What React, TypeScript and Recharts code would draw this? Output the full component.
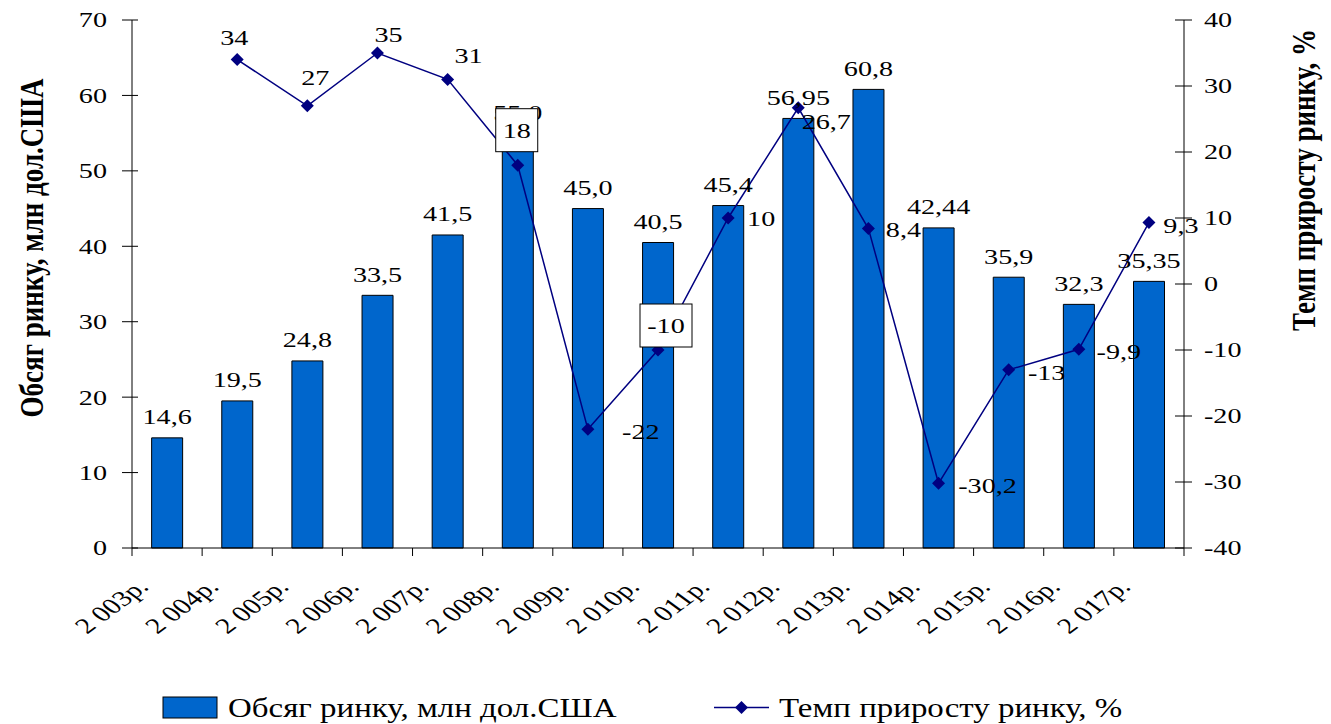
import React from 'react';
import { ComposedChart, Bar, Line, XAxis, YAxis, Legend, LabelList } from 'recharts';

const years = ['2 003р.', '2 004р.', '2 005р.', '2 006р.', '2 007р.', '2 008р.', '2 009р.', '2 010р.', '2 011р.', '2 012р.', '2 013р.', '2 014р.', '2 015р.', '2 016р.', '2 017р.'];
const marketVolume = [14.6, 19.5, 24.8, 33.5, 41.5, 55.0, 45.0, 40.5, 45.4, 56.95, 60.8, 42.44, 35.9, 32.3, 35.35];
const growthRate: (number | null)[] = [null, 34, 27, 35, 31, 18, -22, -10, 10, 26.7, 8.4, -30.2, -13, -9.9, 9.3];
const leftTicks = [0, 10, 20, 30, 40, 50, 60, 70];
const rightTicks = [-40, -30, -20, -10, 0, 10, 20, 30, 40];

// where each growth label sits relative to its point (Excel moved them by hand)
const growthLabelPlacement: ({ dx: number; dy: number; box?: [number, number] } | null)[] = [
  null,
  { dx: -3, dy: -22 },
  { dx: 8, dy: -28 },
  { dx: 11, dy: -18 },
  { dx: 21, dy: -24 },
  { dx: -1, dy: -35, box: [42, 43] },
  { dx: 53, dy: 2 },
  { dx: 8, dy: -24.5, box: [52, 43] },
  { dx: 33, dy: 1 },
  { dx: 28, dy: 14 },
  { dx: 35, dy: 1 },
  { dx: 49, dy: 2.5 },
  { dx: 38, dy: 2.5 },
  { dx: 40, dy: 2.5 },
  { dx: 32, dy: 3 },
];

const data = years.map((year, i) => ({ year, volume: marketVolume[i], growth: growthRate[i] }));

const FONT = '"Liberation Serif", "Times New Roman", serif';
const SX = 1.28;
const BAR_COLOR = '#0066CC';
const LINE_COLOR = '#000080';
const W = 1331;
const H = 724;
const BAND = 1052 / years.length;

const SText = ({ x, y, children, size = 22, anchor = 'middle', angle = 0, sx = SX, weight = 'normal', dy = 0 }: any) => (
  <text
    transform={`translate(${x},${y}) scale(${sx},1) rotate(${angle})`}
    x={0}
    y={0}
    dy={dy}
    textAnchor={anchor}
    fontSize={size}
    fontWeight={weight}
    fontFamily={FONT}
    fill="#000"
  >
    {children}
  </text>
);

const Diamond = ({ cx, cy, r = 6.5 }: any) => (
  <path d={`M${cx},${cy - r}L${cx + r},${cy}L${cx},${cy + r}L${cx - r},${cy}Z`} fill={LINE_COLOR} />
);

const LeftTick = ({ x, y, payload }: any) => (
  <g>
    <line x1={x - 10} x2={x + 6} y1={y} y2={y} stroke="#000" />
    <SText x={x - 25} y={y} anchor="end" dy="0.34em">{payload.value}</SText>
  </g>
);

const RightTick = ({ x, y, payload }: any) => (
  <g>
    <line x1={x - 9} x2={x + 8} y1={y} y2={y} stroke="#000" />
    <SText x={x + 20} y={y} anchor="start" dy="0.34em">{payload.value}</SText>
  </g>
);

const XTick = ({ x, y, payload, index }: any) => (
  <g>
    <line x1={x - BAND / 2} x2={x - BAND / 2} y1={y} y2={y + 8} stroke="#000" />
    {index === years.length - 1 && <line x1={x + BAND / 2} x2={x + BAND / 2} y1={y} y2={y + 8} stroke="#000" />}
    <SText x={x - 17} y={y + 40} anchor="end" angle={-45} sx={1.35}>{payload.value}</SText>
  </g>
);

const fmtVolume = (v: number) => (Number.isInteger(v) ? v.toFixed(1) : String(v)).replace('.', ',');
const fmtGrowth = (v: number) => String(v).replace('.', ',');

const renderBarLabel = (props: any) => {
  const { x, y, width, value } = props;
  if (value == null) return null;
  return <SText x={x + width / 2} y={y - 21} dy="0.34em">{fmtVolume(value)}</SText>;
};

const renderLineLabel = (props: any) => {
  const { x, y, value, index } = props;
  const p = growthLabelPlacement[index];
  if (value == null || !p) return null;
  const cx = x + p.dx;
  const cy = y + p.dy;
  return (
    <g>
      {p.box && (
        <rect x={cx - p.box[0] / 2} y={cy - p.box[1] / 2} width={p.box[0]} height={p.box[1]} fill="#fff" stroke="#000" />
      )}
      <SText x={cx} y={cy} dy="0.34em">{fmtGrowth(value)}</SText>
    </g>
  );
};

const renderDot = (props: any) => {
  const { cx, cy, value, index } = props;
  if (value == null || cx == null || cy == null) return <g key={`d${index}`} />;
  return <Diamond key={`d${index}`} cx={cx} cy={cy} />;
};

const renderLegend = () => (
  <svg width={W} height={30} style={{ display: 'block', overflow: 'visible' }}>
    <rect x={163} y={4} width={54} height={21} fill={BAR_COLOR} stroke="#000" />
    <SText x={228} y={24} anchor="start" size={27} sx={1.22}>Обсяг ринку, млн дол.США</SText>
    <line x1={714} x2={769} y1={14.5} y2={14.5} stroke={LINE_COLOR} strokeWidth={1.5} />
    <Diamond cx={741.5} cy={14.5} />
    <SText x={779} y={24} anchor="start" size={27} sx={1.22}>Темп приросту ринку, %</SText>
  </svg>
);

const leftTitle = (props: any) => {
  const vb = props.viewBox || { x: 72, y: 20, width: 60, height: 528 };
  return (
    <SText x={vb.x - 41} y={vb.y + vb.height / 2 - 36} angle={-90} size={27} weight="bold" dy="0.34em">
      Обсяг ринку, млн дол.США
    </SText>
  );
};

const rightTitle = (props: any) => {
  const vb = props.viewBox || { x: 1184, y: 20, width: 60, height: 528 };
  return (
    <SText x={vb.x + 119} y={vb.y + vb.height / 2 - 104} angle={-90} size={27} weight="bold" dy="0.34em">
      Темп приросту ринку, %
    </SText>
  );
};

const App = () => (
  <div style={{ position: 'absolute', left: 0, top: 0, width: W, height: H, background: '#fff' }}>
    <ComposedChart width={W} height={H} data={data} margin={{ top: 20, right: 87, bottom: 1, left: 72 }} barCategoryGap="28%">
      <XAxis
        dataKey="year"
        height={145}
        interval={0}
        axisLine={{ stroke: '#000' }}
        tickLine={false}
        tickSize={0}
        tickMargin={0}
        tick={<XTick />}
      />
      <YAxis
        yAxisId="left"
        width={60}
        domain={[0, 70]}
        ticks={leftTicks}
        axisLine={{ stroke: '#000' }}
        tickLine={false}
        tickSize={0}
        tickMargin={0}
        tick={<LeftTick />}
        label={{ content: leftTitle }}
      />
      <YAxis
        yAxisId="right"
        orientation="right"
        width={60}
        domain={[-40, 40]}
        ticks={rightTicks}
        axisLine={{ stroke: '#000' }}
        tickLine={false}
        tickSize={0}
        tickMargin={0}
        tick={<RightTick />}
        label={{ content: rightTitle }}
      />
      <Legend verticalAlign="bottom" content={renderLegend} wrapperStyle={{ left: 0, width: W, bottom: 1 }} />
      <Bar yAxisId="left" dataKey="volume" fill={BAR_COLOR} stroke="#000" strokeWidth={1} isAnimationActive={false}>
        <LabelList dataKey="volume" content={renderBarLabel} />
      </Bar>
      <Line
        yAxisId="right"
        dataKey="growth"
        stroke={LINE_COLOR}
        strokeWidth={1.5}
        dot={renderDot}
        activeDot={false}
        isAnimationActive={false}
      >
        <LabelList dataKey="growth" content={renderLineLabel} />
      </Line>
    </ComposedChart>
  </div>
);

export default App;
